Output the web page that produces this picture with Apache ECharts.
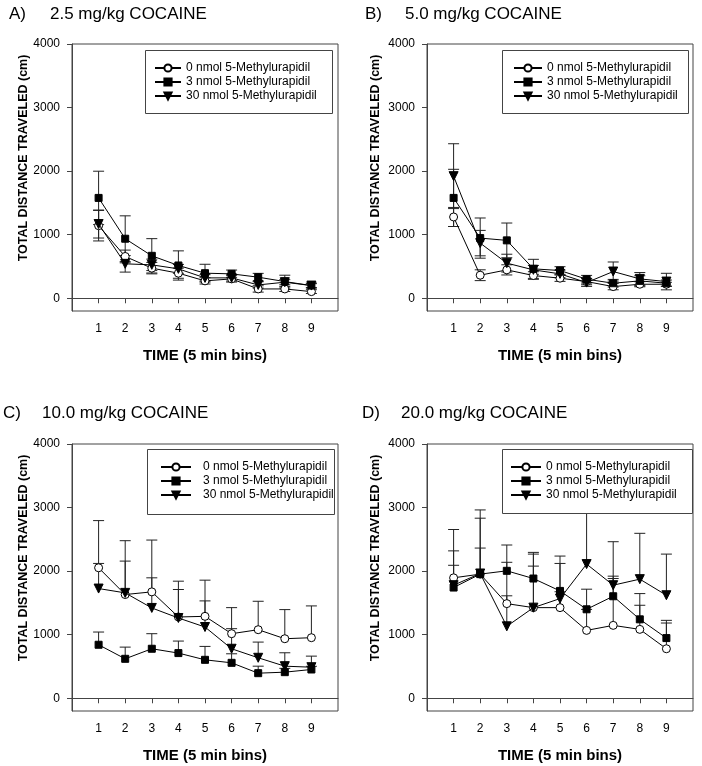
<!DOCTYPE html>
<html>
<head>
<meta charset="utf-8">
<script src="https://cdn.jsdelivr.net/npm/echarts@6/dist/echarts.min.js"></script>
<style>
html,body{margin:0;padding:0;background:#fff;}
#chart{width:702px;height:766px;}
</style>
</head>
<body>
<div id="chart"></div>
<script>
// ---- data ----
const bins = [1, 2, 3, 4, 5, 6, 7, 8, 9];
const yTicks = [0, 1000, 2000, 3000, 4000];
const seriesNames = ['0 nmol 5-Methylurapidil', '3 nmol 5-Methylurapidil', '30 nmol 5-Methylurapidil'];
const panelLetters = ['A)', 'B)', 'C)', 'D)'];
const panelTitles = ['2.5 mg/kg COCAINE', '5.0 mg/kg COCAINE', '10.0 mg/kg COCAINE', '20.0 mg/kg COCAINE'];
const xTitle = 'TIME (5 min bins)';
const yTitle = 'TOTAL DISTANCE TRAVELED (cm)';

// Panel A: 2.5 mg/kg
const A_0nmol = [1142, 658, 474, 395, 274, 305, 147, 147, 105];
const A_3nmol = [1579, 937, 668, 516, 395, 384, 332, 263, 200];
const A_30nmol = [1168, 542, 526, 463, 321, 321, 210, 253, 200];
const A_0nmol_err = [240, 100, 90, 80, 50, 50, 50, 40, 30];
const A_3nmol_err = [420, 360, 270, 230, 140, 60, 60, 100, 40];
const A_30nmol_err = [220, 130, 90, 70, 50, 50, 50, 40, 30];

// Panel B: 5.0 mg/kg
const B_0nmol = [1279, 363, 447, 358, 316, 263, 184, 221, 221];
const B_3nmol = [1579, 947, 911, 463, 437, 300, 237, 274, 237];
const B_30nmol = [1921, 868, 553, 447, 384, 247, 421, 305, 263];
const B_0nmol_err = [150, 85, 80, 60, 50, 50, 50, 40, 30];
const B_3nmol_err = [450, 316, 273, 150, 60, 60, 60, 80, 50];
const B_30nmol_err = [510, 200, 140, 70, 60, 60, 150, 100, 130];

// Panel C: 10.0 mg/kg
const C_0nmol = [2053, 1632, 1674, 1279, 1289, 1016, 1079, 937, 953];
const C_3nmol = [842, 621, 779, 711, 605, 558, 395, 411, 453];
const C_30nmol = [1726, 1658, 1421, 1263, 1121, 779, 637, 505, 489];
const C_0nmol_err = [742, 847, 815, 563, 569, 410, 447, 458, 500];
const C_3nmol_err = [200, 184, 237, 189, 211, 142, 110, 60, 50];
const C_30nmol_err = [395, 500, 474, 448, 411, 316, 247, 211, 174];

// Panel D: 20.0 mg/kg
const D_0nmol = [1895, 1953, 1489, 1426, 1426, 1068, 1147, 1084, 779];
const D_3nmol = [1742, 1953, 2005, 1884, 1689, 1400, 1605, 1242, 947];
const D_30nmol = [1779, 1963, 1132, 1426, 1568, 2111, 1779, 1874, 1621];
const D_0nmol_err = [760, 1010, 650, 653, 250, 330, 737, 379, 405];
const D_3nmol_err = [350, 880, 406, 411, 432, 316, 316, 405, 279];
const D_30nmol_err = [540, 400, 480, 842, 669, 1100, 684, 721, 647];

const panelMeans = [
  [A_0nmol, A_3nmol, A_30nmol],
  [B_0nmol, B_3nmol, B_30nmol],
  [C_0nmol, C_3nmol, C_30nmol],
  [D_0nmol, D_3nmol, D_30nmol]
];
const panelErrs = [
  [A_0nmol_err, A_3nmol_err, A_30nmol_err],
  [B_0nmol_err, B_3nmol_err, B_30nmol_err],
  [C_0nmol_err, C_3nmol_err, C_30nmol_err],
  [D_0nmol_err, D_3nmol_err, D_30nmol_err]
];
const panelErrBoth = [true, true, false, false];

// ---- layout ----
const FONT = "'Liberation Sans', Arial, sans-serif";
const grids = [
  {left: 72, top: 44},
  {left: 427, top: 44},
  {left: 72, top: 444},
  {left: 427, top: 444}
];
const GW = 266, GH = 267;
const titlePos = [
  {lx: 9, tx: 50, y: 14},
  {lx: 365, tx: 405, y: 14},
  {lx: 3, tx: 42, y: 413},
  {lx: 362, tx: 401, y: 413}
];
const legendBoxes = [
  {x: 145, y: 50, w: 187, h: 63, pad: 9, iw: 26, tp: 0},
  {x: 502, y: 50, w: 186, h: 63, pad: 11, iw: 28, tp: 0},
  {x: 147, y: 449, w: 187, h: 65, pad: 13, iw: 30, tp: 7},
  {x: 502, y: 449, w: 190, h: 64, pad: 8, iw: 30, tp: 0}
];
const yLabelPos = [[24, 158], [376, 158], [24, 558], [376, 558]];

const symbols = ['circle', 'rect', 'path://M0,0 L10,0 L5,10 Z'];
const symbolSizes = [8, 7, 9];
const symbolFill = ['#ffffff', '#000000', '#000000'];

const option = {
  backgroundColor: '#ffffff',
  animation: false,
  textStyle: {fontFamily: FONT},
  grid: [], xAxis: [], yAxis: [], series: [], legend: [], graphic: []
};

grids.forEach((g, p) => {
  option.grid.push({left: g.left, top: g.top, width: GW, height: GH, show: true,
    borderColor: '#444', borderWidth: 1, backgroundColor: 'transparent', containLabel: false});
  option.xAxis.push({
    type: 'value', gridIndex: p, min: 0, max: 10,
    name: xTitle, nameLocation: 'middle', nameGap: 37,
    nameTextStyle: {fontFamily: FONT, fontWeight: 'bold', fontSize: 15, color: '#000'},
    axisLine: {show: true, lineStyle: {color: '#444', width: 1}},
    axisTick: {show: true, length: 5, customValues: bins, lineStyle: {color: '#444'}},
    axisLabel: {show: true, customValues: bins, margin: 12, fontSize: 12, color: '#000', fontFamily: FONT},
    splitLine: {show: false}
  });
  option.yAxis.push({
    type: 'value', gridIndex: p, min: -200, max: 4000,
    axisLine: {show: true, lineStyle: {color: '#444', width: 1}},
    axisTick: {show: true, length: 5, customValues: yTicks, lineStyle: {color: '#444'}},
    axisLabel: {show: true, customValues: yTicks, margin: 12, fontSize: 12, color: '#000', fontFamily: FONT,
      formatter: function (v) { return String(v); }},
    splitLine: {show: false}
  });

  // error bars
  seriesNames.forEach((nm, s) => {
    const means = panelMeans[p][s];
    const errs = panelErrs[p][s];
    const both = panelErrBoth[p];
    option.series.push({
      type: 'custom', name: 'err' + p + s, xAxisIndex: p, yAxisIndex: p, z: 1,
      silent: true, clip: false,
      data: bins.map((b, i) => [b, both ? means[i] - errs[i] : means[i], means[i] + errs[i], means[i]]),
      encode: {x: 0, y: [1, 2]},
      renderItem: function (params, api) {
        const x = api.value(0), lo = api.value(1), hi = api.value(2), m = api.value(3);
        const pLo = api.coord([x, lo]);
        const pHi = api.coord([x, hi]);
        const cw = 5.5;
        const st = {stroke: '#222', lineWidth: 1, fill: null};
        const ch = [
          {type: 'line', shape: {x1: pLo[0], y1: pLo[1], x2: pHi[0], y2: pHi[1]}, style: st},
          {type: 'line', shape: {x1: pHi[0] - cw, y1: pHi[1], x2: pHi[0] + cw, y2: pHi[1]}, style: st}
        ];
        if (lo < m) {
          ch.push({type: 'line', shape: {x1: pLo[0] - cw, y1: pLo[1], x2: pLo[0] + cw, y2: pLo[1]}, style: st});
        }
        return {type: 'group', children: ch};
      }
    });
  });
  seriesNames.forEach((nm, s) => {
    option.series.push({
      type: 'line', name: nm, xAxisIndex: p, yAxisIndex: p, z: 3 + s,
      data: bins.map((b, i) => [b, panelMeans[p][s][i]]),
      symbol: symbols[s], symbolSize: symbolSizes[s], showAllSymbol: true,
      symbolKeepAspect: true,
      lineStyle: {color: '#000', width: 1},
      itemStyle: {color: symbolFill[s], borderColor: '#000', borderWidth: 1, opacity: 1},
      emphasis: {disabled: true}
    });
  });

  const lb = legendBoxes[p];
  option.graphic.push({
    type: 'rect', z: 10, shape: {x: lb.x + 0.5, y: lb.y + 0.5, width: lb.w, height: lb.h},
    style: {fill: '#fff', stroke: '#444', lineWidth: 1}
  });
  option.legend.push({
    data: seriesNames, orient: 'vertical', left: lb.x + lb.pad, top: lb.y + 12,
    itemWidth: lb.iw, itemHeight: 9, itemGap: 2, padding: 0, z: 20,
    selectedMode: false,
    textStyle: {fontFamily: FONT, fontSize: 12, color: '#000', padding: [0, 0, 0, lb.tp]}
  });

  const tp = titlePos[p];
  option.graphic.push({type: 'text', z: 30, x: tp.lx, y: tp.y,
    style: {text: panelLetters[p], font: "17px " + FONT, fill: '#000', verticalAlign: 'middle'}});
  option.graphic.push({type: 'text', z: 30, x: tp.tx, y: tp.y,
    style: {text: panelTitles[p], font: "17px " + FONT, fill: '#000', verticalAlign: 'middle'}});
  const yp = yLabelPos[p];
  option.graphic.push({type: 'text', z: 30, x: yp[0], y: yp[1], rotation: Math.PI / 2,
    style: {text: yTitle, font: "bold 12.5px " + FONT, fill: '#000',
      align: 'center', verticalAlign: 'middle'}});
});

const chart = echarts.init(document.getElementById('chart'), null, {renderer: 'canvas'});
chart.setOption(option);
</script>
</body>
</html>
